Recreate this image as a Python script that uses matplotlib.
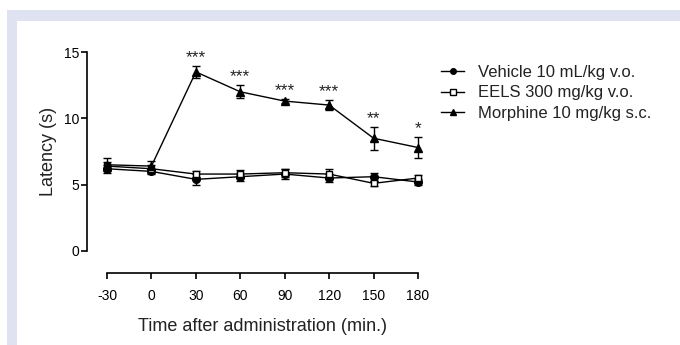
import matplotlib
matplotlib.use("Agg")
import matplotlib.pyplot as plt
from matplotlib.patches import Rectangle
from matplotlib.lines import Line2D

plt.rcParams['font.family'] = ['Liberation Sans', 'DejaVu Sans']

time = [-30, 0, 30, 60, 90, 120, 150, 180]
tick_labels = ['-30', '0', '30', '60', '90', '120', '150', '180']
vehicle = [6.2, 6.0, 5.4, 5.6, 5.8, 5.5, 5.6, 5.2]
vehicle_err = [0.3, 0.2, 0.4, 0.3, 0.4, 0.3, 0.3, 0.2]
eels = [6.4, 6.2, 5.8, 5.8, 5.9, 5.8, 5.1, 5.5]
eels_err = [0.3, 0.3, 0.2, 0.3, 0.3, 0.4, 0.2, 0.2]
morphine = [6.5, 6.4, 13.5, 12.0, 11.3, 11.0, 8.5, 7.8]
morphine_err = [0.5, 0.4, 0.45, 0.5, 0.15, 0.4, 0.85, 0.8]
stars = ['', '', '***', '***', '***', '***', '**', '*']
labels = ['Vehicle 10 mL/kg v.o.', 'EELS 300 mg/kg v.o.', 'Morphine 10 mg/kg s.c.']

W, H = 680, 345
PT = 0.72  # points per pixel at 100 dpi
fig = plt.figure(figsize=(W/100, H/100), dpi=100, facecolor='white')
band = '#dfe2f1'
fig.add_artist(Rectangle((7/W, 0), 10/W, (H-10)/H, transform=fig.transFigure, color=band, lw=0))
fig.add_artist(Rectangle((7/W, (H-21)/H), (W-7)/W, 11/H, transform=fig.transFigure, color=band, lw=0))

ax = fig.add_axes([107/W, (H-251)/H, (418-107)/W, (251-52)/H])
ax.set_facecolor('none')

common = dict(color='black', lw=1.0, capsize=3, elinewidth=1.0, capthick=1.0, clip_on=False)
h1 = ax.errorbar(time, vehicle, yerr=vehicle_err, marker='o', ms=5.5, mfc='black', mec='black', **common)
h2 = ax.errorbar(time, eels, yerr=eels_err, marker='s', ms=5, mfc='white', mec='black', mew=1.0, **common)
h3 = ax.errorbar(time, morphine, yerr=morphine_err, marker='^', ms=5.5, mfc='black', mec='black', **common)
for art in (h1, h2, h3):
    for a in art.lines[1] + art.lines[2]:
        a.set_clip_on(False)

for t, m, e, s in zip(time, morphine, morphine_err, stars):
    if s:
        ax.text(t, m + e + 0.05, s, ha='center', va='bottom', fontsize=12.5, color='#222222')

ax.set_xlim(-30, 180)
ax.set_ylim(0, 15)
ax.set_xticks(time)
ax.set_xticklabels(tick_labels)
ax.set_yticks([0, 5, 10, 15])
for lab in ax.get_xticklabels() + ax.get_yticklabels():
    lab.set_fontweight('bold')
    lab.set_fontsize(10.5)
ax.spines['top'].set_visible(False)
ax.spines['right'].set_visible(False)
ax.spines['left'].set_position(('outward', 20*PT))
ax.spines['bottom'].set_position(('outward', 22*PT))
ax.spines['left'].set_linewidth(1.2)
ax.spines['bottom'].set_linewidth(1.2)
ax.tick_params(direction='out', length=6*PT, width=1.2)
ax.tick_params(axis='y', pad=1)
ax.tick_params(axis='x', pad=7)
ax.set_xlabel('Time after administration (min.)', fontsize=13, color='#222222', labelpad=11)
ax.set_ylabel('Latency (s)', fontsize=13, color='#222222', labelpad=5)

handles = [
    Line2D([], [], color='black', lw=1.0, marker='o', ms=4, mfc='black'),
    Line2D([], [], color='black', lw=1.0, marker='s', ms=4, mfc='white'),
    Line2D([], [], color='black', lw=1.0, marker='^', ms=4, mfc='black'),
]
leg = fig.legend(handles, labels, loc='upper left', bbox_to_anchor=(441/W, (H-65)/H),
                 frameon=False, fontsize=12, handlelength=1.4, handletextpad=0.85,
                 labelspacing=0.33, borderaxespad=0, borderpad=0)
for t in leg.get_texts():
    t.set_color('#222222')

fig.savefig('out.png', dpi=100, facecolor='white')
